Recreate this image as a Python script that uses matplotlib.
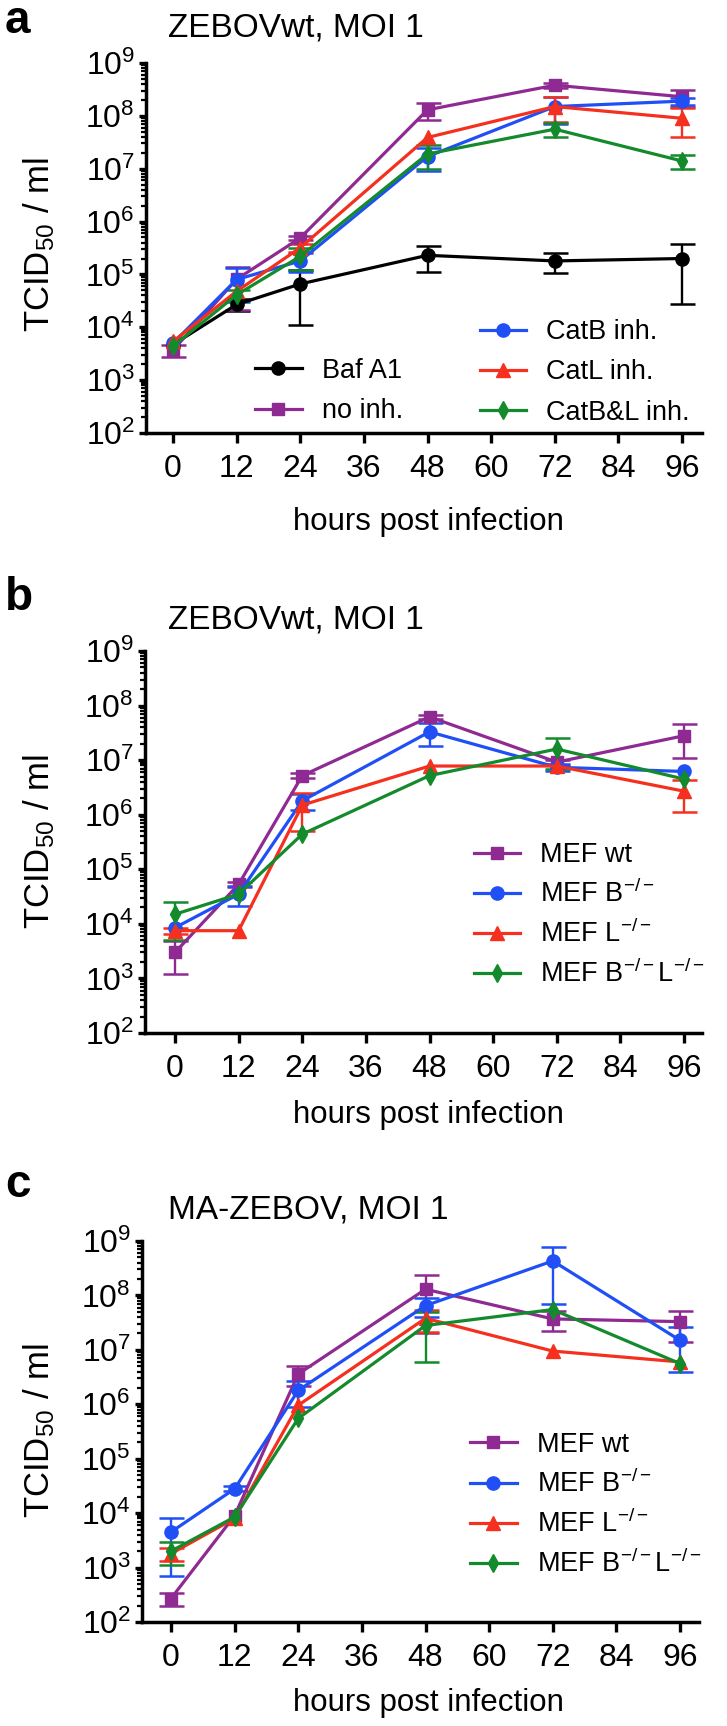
import numpy as np
import matplotlib
matplotlib.use("Agg")
import matplotlib.pyplot as plt
from matplotlib.ticker import LogLocator, NullFormatter, FixedLocator

FONT = 'Liberation Sans'
plt.rcParams['font.family'] = [FONT, 'DejaVu Sans']
plt.rcParams['mathtext.fontset'] = 'custom'
plt.rcParams['mathtext.rm'] = FONT
plt.rcParams['mathtext.it'] = FONT + ':italic'
plt.rcParams['mathtext.bf'] = FONT + ':bold'

# ---------------- data ----------------
hours = [0, 12, 24, 48, 72, 96]
xticks = [0, 12, 24, 36, 48, 60, 72, 84, 96]

# panel a : ZEBOVwt, inhibitors
a_labels = ['Baf A1', 'no inh.', 'CatB inh.', 'CatL inh.', 'CatB&L inh.']
a_bafa1 = [4.7e3, 2.7e4, 6.6e4, 2.3e5, 1.8e5, 2.0e5]
a_bafa1_sd = [0, 7e3, 5.5e4, 1.2e5, 7.5e4, 1.73e5]
a_noinh = [3.7e3, 8.1e4, 4.9e5, 1.3e8, 3.8e8, 2.3e8]
a_noinh_sd = [1e3, 6e4, 5e4, 4.5e7, 4e7, 8e7]
a_catb = [5.0e3, 8.0e4, 1.8e5, 1.7e7, 1.5e8, 1.9e8]
a_catb_sd = [0, 5e4, 7e4, 8e6, 8e7, 3e7]
a_catl = [5.4e3, 4.8e4, 3.2e5, 3.9e7, 1.5e8, 9.0e7]
a_catl_sd = [0, 0, 5e4, 0, 7.5e7, 5e7]
a_catbl = [4.4e3, 4.1e4, 2.2e5, 1.9e7, 5.6e7, 1.4e7]
a_catbl_sd = [0, 1e4, 1e5, 9e6, 1.6e7, 4e6]

# panel b : ZEBOVwt, MEF
mef_labels = ['MEF wt', 'MEF B$^{-/-}$', 'MEF L$^{-/-}$', 'MEF B$^{-/-}$L$^{-/-}$']
b_wt = [3.0e3, 5.3e4, 5.2e6, 6.2e7, 9.2e6, 2.8e7]
b_wt_sd = [1.8e3, 5e3, 5e5, 5e6, 1e6, 1.7e7]
b_b = [8.5e3, 3.5e4, 1.8e6, 3.3e7, 7.4e6, 6.2e6]
b_b_sd = [0, 1.4e4, 6e5, 1.5e7, 1e6, 0]
b_l = [7.5e3, 7.5e3, 1.5e6, 7.8e6, 7.8e6, 2.7e6]
b_l_sd = [1e3, 0, 1.0e6, 0, 0, 1.6e6]
b_bl = [1.5e4, 3.5e4, 4.4e5, 5.2e6, 1.6e7, 4.5e6]
b_bl_sd = [1e4, 0, 0, 0, 9e6, 0]

# panel c : MA-ZEBOV, MEF
c_wt = [2.7e2, 9.0e3, 3.6e6, 1.3e8, 3.7e7, 3.3e7]
c_wt_sd = [7e1, 0, 1.4e6, 1.1e8, 1.5e7, 1.9e7]
c_b = [4.5e3, 2.8e4, 1.8e6, 6.5e7, 4.3e8, 1.5e7]
c_b_sd = [3.8e3, 3e3, 9e5, 2.5e7, 3.6e8, 1.1e7]
c_l = [1.8e3, 8.0e3, 9.6e5, 3.8e7, 9.5e6, 6.0e6]
c_l_sd = [5e2, 0, 0, 1.7e7, 0, 0]
c_bl = [2.0e3, 8.5e3, 5.5e5, 2.8e7, 5.5e7, 5.6e6]
c_bl_sd = [9e2, 0, 0, 2.2e7, 0, 0]

# ---------------- style ----------------
BLACK = '#000000'
PURPLE = '#8E2A91'
BLUE = '#1F4FF5'
RED = '#F5301E'
GREEN = '#138A2B'

W, H = 727, 1726
fig = plt.figure(figsize=(W / 100, H / 100), dpi=100)


def fx(p):
    return p / W


def fy(p):
    return 1 - p / H


def make_axes(left, right, top, bottom):
    return fig.add_axes([fx(left), fy(bottom), (right - left) / W, (bottom - top) / H])


def style_axes(ax, x0px, right_px):
    ax.set_yscale('log')
    ax.set_ylim(1e2, 1e9)
    ppx = 509 / 96
    left_px = ax.get_position().x0 * W
    ax.set_xlim((left_px - x0px) / ppx, (right_px - x0px) / ppx)
    ax.xaxis.set_major_locator(FixedLocator(xticks))
    ax.yaxis.set_major_locator(LogLocator(base=10, numticks=20))
    ax.yaxis.set_minor_locator(LogLocator(base=10, subs=np.arange(2, 10), numticks=20))
    ax.yaxis.set_minor_formatter(NullFormatter())
    for s in ['top', 'right']:
        ax.spines[s].set_visible(False)
    for s in ['left', 'bottom']:
        ax.spines[s].set_linewidth(2.5)
    ax.tick_params(axis='x', which='major', length=7, width=2.4, pad=8, labelsize=23)
    ax.tick_params(axis='y', which='major', length=5, width=2.4, pad=3, labelsize=23)
    ax.tick_params(axis='y', which='minor', length=3.5, width=1.6)


def series(ax, y, sd, color, marker, ms, label):
    y = np.asarray(y, float)
    sd = np.asarray(sd, float)
    x = np.asarray(hours, float)
    m = sd > 0
    lo = np.minimum(sd, y * 0.999)
    if m.any():
        ax.errorbar(x[m], y[m], yerr=[lo[m], sd[m]], fmt='none', ecolor=color,
                    elinewidth=1.7, capsize=9, capthick=1.8, zorder=2)
    ax.plot(x, y, color=color, lw=2.3, marker=marker, ms=ms, mec=color, mfc=color,
            label=label, zorder=3)


leg_kw = dict(frameon=False, fontsize=19.5, borderpad=0, borderaxespad=0,
              handlelength=1.72, handletextpad=0.74, loc='upper left')

# ---------------- panel a ----------------
axa = make_axes(146, 702, 63, 433)
style_axes(axa, 173, 702)
series(axa, a_bafa1, a_bafa1_sd, BLACK, 'o', 9.5, a_labels[0])
series(axa, a_noinh, a_noinh_sd, PURPLE, 's', 8, a_labels[1])
series(axa, a_catb, a_catb_sd, BLUE, 'o', 9.5, a_labels[2])
series(axa, a_catl, a_catl_sd, RED, '^', 10, a_labels[3])
series(axa, a_catbl, a_catbl_sd, GREEN, 'd', 9, a_labels[4])
h, l = axa.get_legend_handles_labels()
leg1 = axa.legend(h[2:], l[2:], bbox_to_anchor=(0.60, 0.308), labelspacing=0.53, **leg_kw)
axa.add_artist(leg1)
axa.legend(h[:2], l[:2], bbox_to_anchor=(0.196, 0.203), labelspacing=0.53, **leg_kw)

# ---------------- panel b ----------------
axb = make_axes(145, 702, 651, 1033)
style_axes(axb, 175, 702)
series(axb, b_wt, b_wt_sd, PURPLE, 's', 8, mef_labels[0])
series(axb, b_b, b_b_sd, BLUE, 'o', 9.5, mef_labels[1])
series(axb, b_l, b_l_sd, RED, '^', 10, mef_labels[2])
series(axb, b_bl, b_bl_sd, GREEN, 'd', 9, mef_labels[3])
axb.legend(bbox_to_anchor=(0.59, 0.50), labelspacing=0.43, **leg_kw)

# ---------------- panel c ----------------
axc = make_axes(142, 699, 1241, 1622)
style_axes(axc, 171, 699)
series(axc, c_wt, c_wt_sd, PURPLE, 's', 8, mef_labels[0])
series(axc, c_b, c_b_sd, BLUE, 'o', 9.5, mef_labels[1])
series(axc, c_l, c_l_sd, RED, '^', 10, mef_labels[2])
series(axc, c_bl, c_bl_sd, GREEN, 'd', 9, mef_labels[3])
axc.legend(bbox_to_anchor=(0.589, 0.499), labelspacing=0.43, **leg_kw)

# ---------------- texts ----------------
panels = [
    ('a', 'ZEBOVwt, MOI 1', 33, 28, 245, 522),
    ('b', 'ZEBOVwt, MOI 1', 610, 620, 842, 1115),
    ('c', 'MA-ZEBOV, MOI 1', 1197, 1210, 1431, 1703),
]
for letter, title, ly, ty, yl, xl in panels:
    fig.text(fx(5), fy(ly), letter, fontsize=33, fontweight='bold', ha='left', va='baseline')
    fig.text(fx(168), fy(ty), title, fontsize=24, ha='left', va='center')
    fig.text(fx(39), fy(yl), 'TCID$_{50}$ / ml', fontsize=25, rotation=90, ha='center', va='center')
    fig.text(fx(428), fy(xl), 'hours post infection', fontsize=22.5, ha='center', va='center')

fig.savefig('out.png', dpi=100)
